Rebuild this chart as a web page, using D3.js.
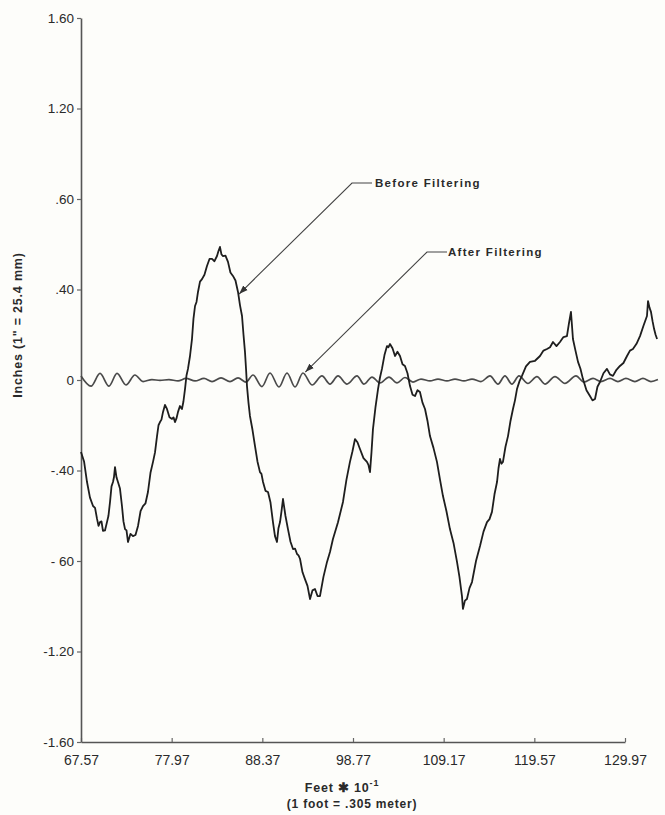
<!DOCTYPE html>
<html>
<head>
<meta charset="utf-8">
<script src="https://cdn.jsdelivr.net/npm/d3@7"></script>
<style>
  html, body { margin: 0; padding: 0; background: #fdfdfa; }
  svg { display: block; }
  text { font-family: "Liberation Sans", Arial, sans-serif; fill: #2a2a2a; }
</style>
</head>
<body>
<svg id="chart" width="665" height="815"></svg>
<script>
// Perfil antes / después del filtrado. (pulgadas vs pies*10^-1)

const yTicks = [-1.6, -1.2, -0.8, -0.4, 0, 0.4, 0.8, 1.2, 1.6];
const yTickLabels = ['-1.60', '-1.20', '- 60', '-.40', '0', '.40', '.60', '1.20', '1.60'];
const xTicks = [67.57, 77.97, 88.37, 98.77, 109.17, 119.57, 129.97];
const xTickLabels = ['67.57', '77.97', '88.37', '98.77', '109.17', '119.57', '129.97'];

// antes del filtrado
const beforeFeet = [
  67.57, 67.92, 68.26, 68.60, 68.95, 69.18, 69.41, 69.58, 69.75, 69.92, 70.09, 70.32, 70.55, 70.72, 70.90,
  71.07, 71.24, 71.35, 71.47, 71.64, 71.81, 72.04, 72.27, 72.44, 72.62, 72.79, 72.96, 73.25, 73.53, 73.82,
  74.11, 74.40, 74.68, 74.97, 75.25, 75.54, 75.83, 76.06, 76.29, 76.46, 76.63, 76.80, 76.98, 77.20, 77.43,
  77.72, 78.01, 78.18, 78.35, 78.52, 78.70, 78.92, 79.15, 79.32, 79.50, 79.67, 79.84, 80.07, 80.30, 80.47,
  80.65, 80.82, 80.99, 81.22, 81.45, 81.73, 82.02, 82.31, 82.60, 82.88, 83.17, 83.34, 83.51, 83.68, 83.86,
  84.14, 84.43, 84.71, 85.00, 85.29, 85.58, 85.81, 86.04, 86.21, 86.38, 86.50, 86.61, 86.78, 86.95, 87.24,
  87.53, 87.81, 88.10, 88.27, 88.45, 88.73, 89.02, 89.30, 89.59, 89.82, 90.05, 90.22, 90.40, 90.57, 90.74,
  91.02, 91.31, 91.60, 91.89, 92.12, 92.35, 92.52, 92.69, 92.98, 93.26, 93.55, 93.84, 94.12, 94.41, 94.70,
  94.98, 95.38, 95.79, 96.13, 96.47, 97.04, 97.62, 98.02, 98.42, 98.71, 99.00, 99.28, 99.57, 99.97, 100.37,
  100.54, 100.72, 100.89, 101.06, 101.35, 101.64, 101.86, 102.09, 102.38, 102.67, 102.84, 103.01, 103.30, 103.59, 103.87,
  104.16, 104.45, 104.73, 105.02, 105.31, 105.60, 105.88, 106.17, 106.45, 106.74, 107.03, 107.31, 107.60, 108.00, 108.40,
  108.75, 109.09, 109.49, 109.89, 110.30, 110.70, 110.98, 111.27, 111.38, 111.61, 111.84, 112.13, 112.42, 112.88, 113.34,
  113.74, 114.14, 114.43, 114.71, 115.00, 115.29, 115.46, 115.63, 115.80, 115.97, 116.26, 116.55, 116.84, 117.12, 117.35,
  117.58, 117.87, 118.15, 118.61, 119.07, 119.65, 120.22, 120.62, 121.02, 121.37, 121.71, 122.11, 122.51, 122.91, 123.31,
  123.54, 123.77, 123.89, 124.00, 124.29, 124.58, 124.86, 125.15, 125.55, 125.95, 126.24, 126.53, 126.81, 127.10, 127.50,
  127.90, 128.24, 128.59, 128.99, 129.39, 129.79, 130.20, 130.54, 130.88, 131.29, 131.69, 132.09, 132.49, 132.61, 132.78,
  132.95, 133.13, 133.31, 133.48, 133.65
];
const beforeIn = [
  -0.318, -0.36, -0.451, -0.52, -0.557, -0.565, -0.614, -0.645, -0.628, -0.625, -0.667, -0.665, -0.628, -0.6, -0.539,
  -0.47, -0.451, -0.43, -0.385, -0.43, -0.451, -0.48, -0.557, -0.625, -0.659, -0.665, -0.716, -0.68, -0.690, -0.685,
  -0.645, -0.58, -0.557, -0.545, -0.495, -0.41, -0.362, -0.32, -0.248, -0.2, -0.186, -0.175, -0.141, -0.11, -0.128,
  -0.165, -0.172, -0.165, -0.186, -0.17, -0.141, -0.115, -0.128, -0.095, -0.040, 0.02, 0.049, 0.105, 0.181, 0.27,
  0.327, 0.345, 0.389, 0.435, 0.446, 0.465, 0.504, 0.535, 0.535, 0.525, 0.548, 0.57, 0.588, 0.555, 0.548,
  0.55, 0.522, 0.475, 0.460, 0.44, 0.389, 0.33, 0.283, 0.2, 0.124, 0.05, -0.027, -0.1, -0.159, -0.22,
  -0.292, -0.36, -0.407, -0.415, -0.451, -0.49, -0.495, -0.54, -0.628, -0.69, -0.716, -0.655, -0.628, -0.58, -0.526,
  -0.6, -0.659, -0.715, -0.747, -0.745, -0.769, -0.775, -0.79, -0.85, -0.880, -0.91, -0.968, -0.93, -0.924, -0.955,
  -0.955, -0.87, -0.804, -0.76, -0.703, -0.63, -0.539, -0.44, -0.362, -0.315, -0.261, -0.275, -0.305, -0.345, -0.362,
  -0.375, -0.407, -0.32, -0.217, -0.12, -0.040, 0.01, 0.049, 0.11, 0.150, 0.145, 0.159, 0.14, 0.106, 0.125,
  0.106, 0.07, 0.062, 0.03, -0.027, -0.065, -0.071, -0.045, -0.053, -0.1, -0.128, -0.18, -0.248, -0.3, -0.362,
  -0.44, -0.513, -0.58, -0.659, -0.72, -0.804, -0.87, -0.955, -1.012, -0.975, -0.968, -0.92, -0.893, -0.8, -0.734,
  -0.67, -0.628, -0.615, -0.583, -0.505, -0.451, -0.39, -0.349, -0.37, -0.362, -0.295, -0.248, -0.18, -0.128, -0.09,
  -0.040, -0.005, 0.018, 0.06, 0.080, 0.085, 0.106, 0.13, 0.137, 0.145, 0.168, 0.15, 0.168, 0.19, 0.194,
  0.25, 0.301, 0.24, 0.181, 0.13, 0.080, 0.05, 0.004, -0.045, -0.071, -0.09, -0.084, -0.03, -0.009, 0.03,
  0.049, 0.025, 0.018, 0.045, 0.062, 0.075, 0.106, 0.13, 0.137, 0.16, 0.194, 0.24, 0.283, 0.349, 0.32,
  0.301, 0.26, 0.225, 0.2, 0.181
];

// después del filtrado (crestas y valles de la oscilación)
const afterFeet = [
  67.57, 68.72, 69.75, 70.78, 71.70, 72.73, 73.76, 74.68, 75.71, 76.63, 77.66, 78.70, 79.61, 80.65, 81.68,
  82.60, 83.63, 84.66, 85.58, 86.50, 87.30, 88.33, 89.25, 90.28, 91.20, 92.12, 93.03, 94.07, 95.21, 96.13,
  97.05, 98.08, 99.23, 100.03, 100.95, 101.87, 102.90, 103.82, 104.73, 105.65, 106.57, 107.60, 108.52, 109.55, 110.47,
  111.50, 112.42, 113.45, 114.48, 115.40, 116.20, 117.00, 117.81, 118.84, 119.87, 120.79, 121.94, 123.08, 124.35, 125.26,
  126.30, 127.21, 128.25, 129.16, 130.08, 131.11, 132.03, 132.95, 133.75
];
const afterIn = [
  0.018, -0.027, 0.029, -0.027, 0.029, -0.022, 0.022, -0.007, 0.002, -0.002, 0.002, -0.004, 0.007, -0.004, 0.007,
  -0.007, 0.009, -0.007, 0.009, -0.009, 0.022, -0.029, 0.031, -0.031, 0.031, -0.031, 0.031, -0.022, 0.018, -0.018,
  0.018, -0.018, 0.018, -0.018, 0.013, -0.013, 0.013, -0.013, 0.011, -0.009, 0.004, -0.004, 0.004, -0.004, 0.004,
  -0.004, 0.004, -0.007, 0.018, -0.018, 0.018, -0.018, 0.018, -0.015, 0.015, -0.018, 0.015, -0.015, 0.018, -0.009,
  0.007, -0.007, 0.007, -0.007, 0.007, -0.007, 0.007, -0.007, 0.002
];

const svg = d3.select('#chart');
const M = { left: 81, right: 625, top: 18, bottom: 742 };

const x = d3.scaleLinear().domain([67.57, 129.97]).range([M.left, M.right]);
const y = d3.scaleLinear().domain([-1.6, 1.6]).range([M.bottom, M.top]);

// ejes
const gx = svg.append('g').attr('transform', `translate(0,${M.bottom})`)
  .call(d3.axisBottom(x).tickValues(xTicks).tickFormat((d, i) => xTickLabels[i])
    .tickSizeInner(-4).tickSizeOuter(0).tickPadding(10));
gx.select('.domain').attr('stroke', '#555').attr('stroke-width', 1.6);
gx.selectAll('.tick line').attr('stroke', '#666').attr('stroke-width', 1.2);
gx.selectAll('.tick text').attr('fill', '#2a2a2a').style('font-size', '14px').attr('dy', '0.9em');

const gy = svg.append('g').attr('transform', `translate(${M.left},0)`)
  .call(d3.axisLeft(y).tickValues(yTicks).tickFormat((d, i) => yTickLabels[i])
    .tickSizeInner(4).tickSizeOuter(0).tickPadding(3));
gy.select('.domain').attr('stroke', '#555').attr('stroke-width', 1.6);
gy.selectAll('.tick line').attr('stroke', '#666').attr('stroke-width', 1.2);
gy.selectAll('.tick text').attr('fill', '#2a2a2a').style('font-size', '13.5px');

// curvas
const pts = (xs, ys) => xs.map((f, i) => [f, ys[i]]);

svg.append('path')
  .attr('d', d3.line().x(d => x(d[0])).y(d => y(d[1])).curve(d3.curveMonotoneX)(pts(afterFeet, afterIn)))
  .attr('fill', 'none').attr('stroke', '#4a4a4a').attr('stroke-width', 1.7);

svg.append('path')
  .attr('d', d3.line().x(d => x(d[0])).y(d => y(d[1]))(pts(beforeFeet, beforeIn)))
  .attr('fill', 'none').attr('stroke', '#1e1e1e').attr('stroke-width', 1.8)
  .attr('stroke-linejoin', 'round');

// flechas de anotación
svg.append('defs').append('marker')
  .attr('id', 'arr').attr('viewBox', '0 0 10 10').attr('refX', 10).attr('refY', 5)
  .attr('markerWidth', 9).attr('markerHeight', 9).attr('orient', 'auto-start-reverse')
  .attr('markerUnits', 'userSpaceOnUse')
  .append('path').attr('d', 'M0,1.5 L10,5 L0,8.5 Z').attr('fill', '#333');

function leader(tx, ty, cx, cy, px, py, label) {
  svg.append('path')
    .attr('d', `M${cx + 20},${cy} L${cx},${cy} L${px},${py}`)
    .attr('fill', 'none').attr('stroke', '#444').attr('stroke-width', 1.1)
    .attr('marker-end', 'url(#arr)');
  svg.append('text').attr('x', tx).attr('y', ty)
    .attr('font-weight', 700).style('font-size', '11.5px').style('letter-spacing', '1.3px')
    .text(label);
}
leader(375, 187, 352, 183, x(85.7), y(0.38), 'Before Filtering');
leader(448, 256, 427, 252, x(93.3), y(0.035), 'After Filtering');

// títulos
svg.append('text')
  .attr('transform', 'translate(22,325) rotate(-90)')
  .attr('text-anchor', 'middle').attr('font-weight', 700)
  .style('font-size', '12.5px').style('letter-spacing', '0.8px')
  .text('Inches  (1" = 25.4 mm)');

const xt = svg.append('text').attr('x', 342).attr('y', 792).attr('text-anchor', 'middle')
  .attr('font-weight', 700).style('font-size', '12.5px').style('letter-spacing', '0.8px');
xt.append('tspan').text('Feet  \u2731 10');
xt.append('tspan').attr('dy', -6).style('font-size', '9px').text('-1');

svg.append('text').attr('x', 352).attr('y', 808).attr('text-anchor', 'middle')
  .attr('font-weight', 700).style('font-size', '12px').style('letter-spacing', '0.8px')
  .text('(1 foot = .305 meter)');
</script>
</body>
</html>
